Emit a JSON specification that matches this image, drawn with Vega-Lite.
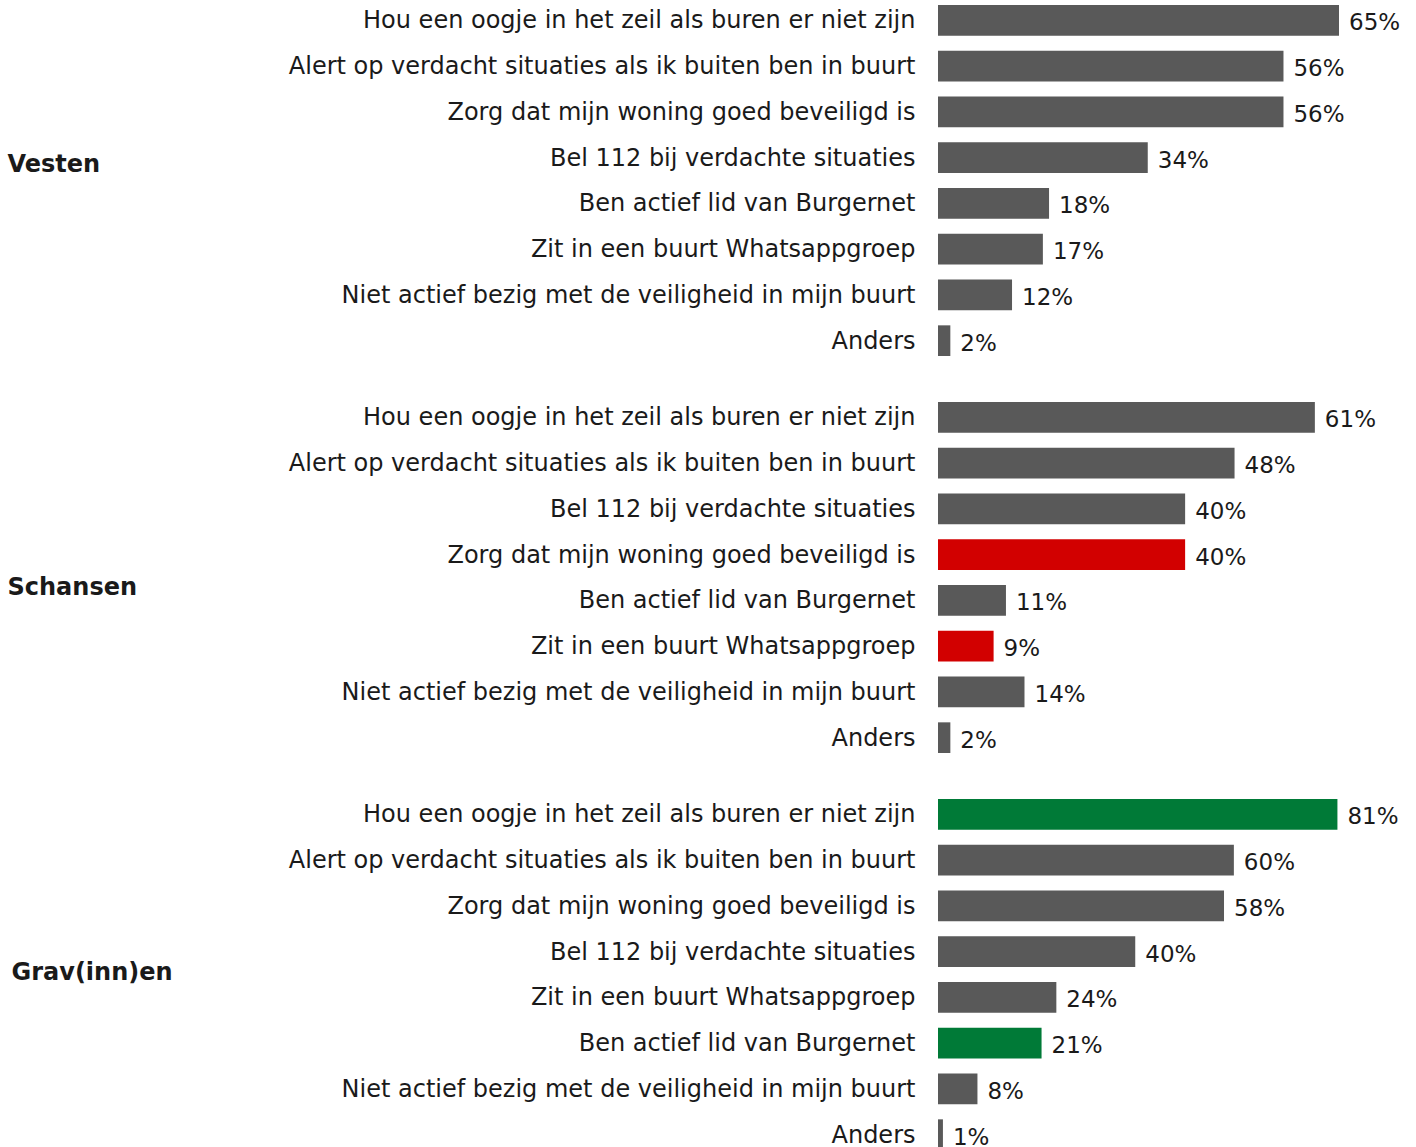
{
  "$schema": "https://vega.github.io/schema/vega-lite/v6.json",
  "padding": {"left": 7, "top": 5, "right": 5, "bottom": 0},
  "background": "white",
  "spacing": 46,
  "config": {
    "view": {"stroke": null},
    "font": "DejaVu Sans",
    "axisY": {
      "domain": false, "ticks": false, "grid": false,
      "labelFont": "DejaVu Sans", "labelFontSize": 24, "labelColor": "#1a1a1a",
      "labelPadding": 23, "labelLimit": 900, "labelOffset": 1,
      "titleAngle": 0, "titleAlign": "left", "titleBaseline": "middle",
      "titleFont": "DejaVu Sans", "titleFontSize": 24, "titleFontWeight": "bold", "titleColor": "#1a1a1a",
      "titleX": -931
    }
  },
  "datasets": {
    "rows": [
      {"groep": "Vesten", "nr": 1, "item": "Hou een oogje in het zeil als buren er niet zijn", "waarde": 0.65, "kleur": "gewoon"},
      {"groep": "Vesten", "nr": 2, "item": "Alert op verdacht situaties als ik buiten ben in buurt", "waarde": 0.56, "kleur": "gewoon"},
      {"groep": "Vesten", "nr": 3, "item": "Zorg dat mijn woning goed beveiligd is", "waarde": 0.56, "kleur": "gewoon"},
      {"groep": "Vesten", "nr": 4, "item": "Bel 112 bij verdachte situaties", "waarde": 0.34, "kleur": "gewoon"},
      {"groep": "Vesten", "nr": 5, "item": "Ben actief lid van Burgernet", "waarde": 0.18, "kleur": "gewoon"},
      {"groep": "Vesten", "nr": 6, "item": "Zit in een buurt Whatsappgroep", "waarde": 0.17, "kleur": "gewoon"},
      {"groep": "Vesten", "nr": 7, "item": "Niet actief bezig met de veiligheid in mijn buurt", "waarde": 0.12, "kleur": "gewoon"},
      {"groep": "Vesten", "nr": 8, "item": "Anders", "waarde": 0.02, "kleur": "gewoon"},
      {"groep": "Schansen", "nr": 1, "item": "Hou een oogje in het zeil als buren er niet zijn", "waarde": 0.61, "kleur": "gewoon"},
      {"groep": "Schansen", "nr": 2, "item": "Alert op verdacht situaties als ik buiten ben in buurt", "waarde": 0.48, "kleur": "gewoon"},
      {"groep": "Schansen", "nr": 3, "item": "Bel 112 bij verdachte situaties", "waarde": 0.40, "kleur": "gewoon"},
      {"groep": "Schansen", "nr": 4, "item": "Zorg dat mijn woning goed beveiligd is", "waarde": 0.40, "kleur": "lager"},
      {"groep": "Schansen", "nr": 5, "item": "Ben actief lid van Burgernet", "waarde": 0.11, "kleur": "gewoon"},
      {"groep": "Schansen", "nr": 6, "item": "Zit in een buurt Whatsappgroep", "waarde": 0.09, "kleur": "lager"},
      {"groep": "Schansen", "nr": 7, "item": "Niet actief bezig met de veiligheid in mijn buurt", "waarde": 0.14, "kleur": "gewoon"},
      {"groep": "Schansen", "nr": 8, "item": "Anders", "waarde": 0.02, "kleur": "gewoon"},
      {"groep": "Grav(inn)en", "nr": 1, "item": "Hou een oogje in het zeil als buren er niet zijn", "waarde": 0.81, "kleur": "hoger"},
      {"groep": "Grav(inn)en", "nr": 2, "item": "Alert op verdacht situaties als ik buiten ben in buurt", "waarde": 0.60, "kleur": "gewoon"},
      {"groep": "Grav(inn)en", "nr": 3, "item": "Zorg dat mijn woning goed beveiligd is", "waarde": 0.58, "kleur": "gewoon"},
      {"groep": "Grav(inn)en", "nr": 4, "item": "Bel 112 bij verdachte situaties", "waarde": 0.40, "kleur": "gewoon"},
      {"groep": "Grav(inn)en", "nr": 5, "item": "Zit in een buurt Whatsappgroep", "waarde": 0.24, "kleur": "gewoon"},
      {"groep": "Grav(inn)en", "nr": 6, "item": "Ben actief lid van Burgernet", "waarde": 0.21, "kleur": "hoger"},
      {"groep": "Grav(inn)en", "nr": 7, "item": "Niet actief bezig met de veiligheid in mijn buurt", "waarde": 0.08, "kleur": "gewoon"},
      {"groep": "Grav(inn)en", "nr": 8, "item": "Anders", "waarde": 0.01, "kleur": "gewoon"}
    ]
  },
  "vconcat": [
    {
      "width": 430, "height": 351,
      "data": {"name": "rows"},
      "transform": [{"filter": "datum.groep === 'Vesten'"}],
      "encoding": {
        "y": {"field": "item", "type": "nominal", "sort": {"field": "nr"},
              "scale": {"paddingInner": 0.33, "paddingOuter": 0},
              "axis": {"title": "Vesten", "titleY": 159}},
        "x": {"field": "waarde", "type": "quantitative", "scale": {"domain": [0, 0.697]}, "axis": null}
      },
      "layer": [
        {"mark": {"type": "bar"},
         "encoding": {"color": {"field": "kleur", "type": "nominal", "legend": null,
            "scale": {"domain": ["gewoon", "lager", "hoger"], "range": ["#595959", "#D20000", "#007A37"]}}}},
        {"mark": {"type": "text", "align": "left", "baseline": "middle", "dx": 10, "dy": 3, "fontSize": 23, "color": "#1a1a1a"},
         "encoding": {"text": {"field": "waarde", "type": "quantitative", "format": ".0%"}}}
      ]
    },
    {
      "width": 430, "height": 351,
      "data": {"name": "rows"},
      "transform": [{"filter": "datum.groep === 'Schansen'"}],
      "encoding": {
        "y": {"field": "item", "type": "nominal", "sort": {"field": "nr"},
              "scale": {"paddingInner": 0.33, "paddingOuter": 0},
              "axis": {"title": "Schansen", "titleY": 185}},
        "x": {"field": "waarde", "type": "quantitative", "scale": {"domain": [0, 0.696]}, "axis": null}
      },
      "layer": [
        {"mark": {"type": "bar"},
         "encoding": {"color": {"field": "kleur", "type": "nominal", "legend": null,
            "scale": {"domain": ["gewoon", "lager", "hoger"], "range": ["#595959", "#D20000", "#007A37"]}}}},
        {"mark": {"type": "text", "align": "left", "baseline": "middle", "dx": 10, "dy": 3, "fontSize": 23, "color": "#1a1a1a"},
         "encoding": {"text": {"field": "waarde", "type": "quantitative", "format": ".0%"}}}
      ]
    },
    {
      "width": 430, "height": 351,
      "data": {"name": "rows"},
      "transform": [{"filter": "datum.groep === 'Grav(inn)en'"}],
      "encoding": {
        "y": {"field": "item", "type": "nominal", "sort": {"field": "nr"},
              "scale": {"paddingInner": 0.33, "paddingOuter": 0},
              "axis": {"title": "Grav(inn)en", "titleY": 173, "titleX": -927}},
        "x": {"field": "waarde", "type": "quantitative", "scale": {"domain": [0, 0.872]}, "axis": null}
      },
      "layer": [
        {"mark": {"type": "bar"},
         "encoding": {"color": {"field": "kleur", "type": "nominal", "legend": null,
            "scale": {"domain": ["gewoon", "lager", "hoger"], "range": ["#595959", "#D20000", "#007A37"]}}}},
        {"mark": {"type": "text", "align": "left", "baseline": "middle", "dx": 10, "dy": 3, "fontSize": 23, "color": "#1a1a1a"},
         "encoding": {"text": {"field": "waarde", "type": "quantitative", "format": ".0%"}}}
      ]
    }
  ]
}
